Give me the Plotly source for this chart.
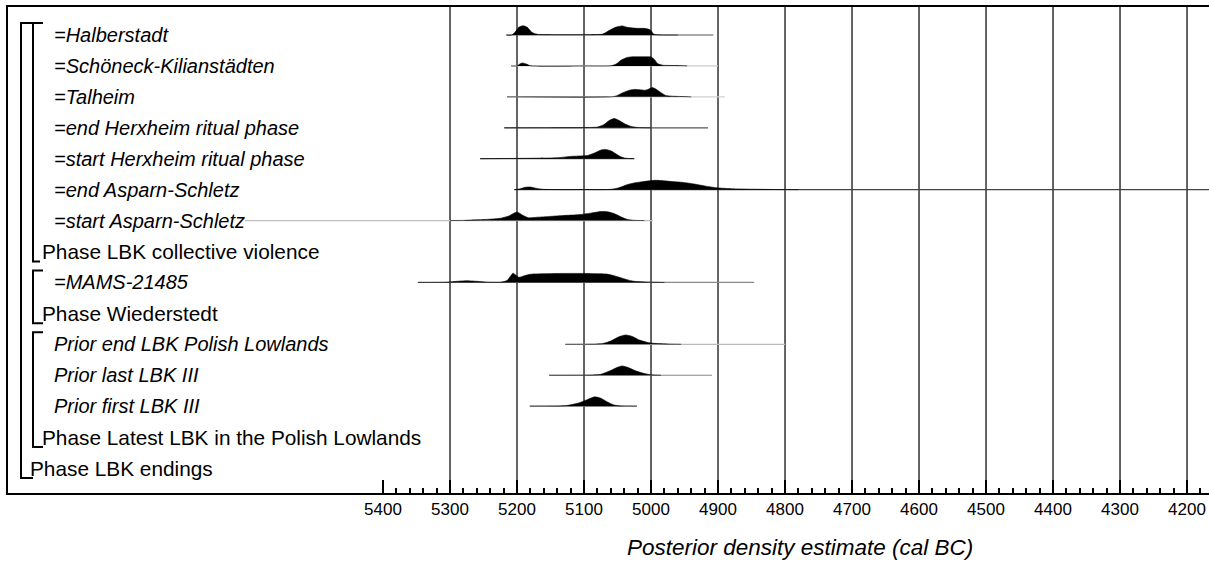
import plotly.graph_objects as go

# ---------------- data ----------------
ROW_LABELS = [
    "=Halberstadt", "=Schöneck-Kilianstädten", "=Talheim",
    "=end Herxheim ritual phase", "=start Herxheim ritual phase",
    "=end Asparn-Schletz", "=start Asparn-Schletz",
    "Phase LBK collective violence", "=MAMS-21485", "Phase Wiederstedt",
    "Prior end LBK Polish Lowlands", "Prior last LBK III", "Prior first LBK III",
    "Phase Latest LBK in the Polish Lowlands", "Phase LBK endings",
]
ROW_ITALIC = [True, True, True, True, True, True, True, False, True, False,
              True, True, True, False, False]
ROW_INDENT_PX = [52, 52, 52, 52, 52, 52, 52, 40, 52, 40, 52, 52, 52, 40, 28]

TICK_YEARS = [5400, 5300, 5200, 5100, 5000, 4900, 4800, 4700, 4600, 4500, 4400, 4300, 4200]
TICK_LABELS = ["5400", "5300", "5200", "5100", "5000", "4900", "4800", "4700",
               "4600", "4500", "4400", "4300", "4200"]
GRID_YEARS = [5300, 5200, 5100, 5000, 4900, 4800, 4700, 4600, 4500, 4400, 4300, 4200]
MINOR_YEARS = [y for y in range(5380, 4160, -20) if y % 100 != 0]

# density curves: (years, relative density 0..1)
halb_x = [5216, 5208, 5203, 5197, 5191, 5185, 5178, 5170, 5150, 5120, 5090, 5072, 5062, 5052, 5043, 5035, 5022, 5008, 5001, 4996, 4990, 4960]
halb_h = [0, 0, 0.3, 0.85, 1.0, 0.85, 0.3, 0.08, 0.04, 0.03, 0.04, 0.1, 0.5, 0.85, 0.98, 0.82, 0.72, 0.7, 0.55, 0.1, 0.02, 0]
scho_x = [5209, 5200, 5196, 5192, 5186, 5180, 5100, 5060, 5052, 5045, 5036, 5030, 5010, 5000, 4995, 4990, 4983, 4970, 4955, 4946]
scho_h = [0, 0, 0.2, 0.32, 0.2, 0.02, 0, 0.02, 0.2, 0.6, 0.9, 0.97, 0.98, 0.96, 0.7, 0.25, 0.08, 0.05, 0.03, 0]
talh_x = [5215, 5060, 5052, 5042, 5032, 5024, 5015, 5008, 5003, 4998, 4993, 4985, 4978, 4965, 4950, 4940]
talh_h = [0, 0, 0.1, 0.45, 0.72, 0.8, 0.75, 0.72, 0.85, 1.0, 0.85, 0.45, 0.15, 0.06, 0.03, 0]
endh_x = [5219, 5150, 5100, 5080, 5070, 5062, 5055, 5048, 5040, 5030, 5020, 5000]
endh_h = [0, 0.01, 0.02, 0.08, 0.35, 0.8, 1.0, 0.8, 0.45, 0.15, 0.04, 0]
strh_x = [5255, 5220, 5180, 5140, 5120, 5105, 5095, 5085, 5074, 5068, 5060, 5052, 5045, 5038, 5025]
strh_h = [0, 0.02, 0.05, 0.1, 0.25, 0.3, 0.35, 0.6, 0.95, 1.0, 0.85, 0.5, 0.2, 0.05, 0]
enda_x = [5204, 5195, 5188, 5180, 5170, 5160, 5100, 5060, 5048, 5035, 5025, 5010, 4995, 4985, 4970, 4952, 4935, 4920, 4902, 4880, 4850, 4820, 4780]
enda_h = [0, 0.1, 0.25, 0.28, 0.12, 0.03, 0.01, 0.03, 0.2, 0.55, 0.72, 0.88, 1.0, 0.98, 0.88, 0.78, 0.6, 0.4, 0.2, 0.1, 0.05, 0.02, 0]
stra_x = [5300, 5280, 5262, 5240, 5225, 5212, 5203, 5199, 5192, 5183, 5170, 5150, 5130, 5110, 5090, 5075, 5065, 5055, 5045, 5035, 5025, 5010]
stra_h = [0, 0.02, 0.08, 0.15, 0.25, 0.5, 0.85, 0.9, 0.6, 0.3, 0.36, 0.45, 0.55, 0.62, 0.8, 0.97, 0.95, 0.75, 0.4, 0.12, 0.03, 0]
mams_x = [5348, 5305, 5290, 5275, 5260, 5245, 5225, 5215, 5209, 5206, 5202, 5197, 5190, 5180, 5160, 5130, 5100, 5080, 5066, 5055, 5045, 5036, 5025, 5010, 4995, 4980]
mams_h = [0, 0.02, 0.12, 0.18, 0.12, 0.03, 0.02, 0.2, 0.75, 1.0, 0.8, 0.55, 0.7, 0.88, 0.94, 0.97, 0.97, 0.94, 0.9, 0.72, 0.5, 0.3, 0.12, 0.06, 0.02, 0]
pend_x = [5128, 5085, 5072, 5060, 5048, 5038, 5028, 5017, 5005, 4995, 4975, 4955]
pend_h = [0, 0.02, 0.08, 0.35, 0.8, 1.0, 0.85, 0.45, 0.2, 0.1, 0.03, 0]
plst_x = [5152, 5090, 5075, 5062, 5050, 5043, 5035, 5022, 5010, 5000, 4985]
plst_h = [0, 0.02, 0.1, 0.45, 0.85, 1.0, 0.85, 0.45, 0.18, 0.05, 0]
pfst_x = [5181, 5140, 5125, 5110, 5095, 5084, 5075, 5065, 5055, 5045, 5021]
pfst_h = [0, 0.02, 0.08, 0.3, 0.7, 1.0, 0.85, 0.45, 0.12, 0.03, 0]

# row index, years, heights, baseline start, baseline end, baseline colour
CURVES = [
    (0, halb_x, halb_h, 5216, 4907, "#555555"),
    (1, scho_x, scho_h, 5209, 4900, "#cccccc"),
    (2, talh_x, talh_h, 5215, 4890, "#d0d0d0"),
    (3, endh_x, endh_h, 5219, 4915, "#555555"),
    (4, strh_x, strh_h, 5255, 5025, "#555555"),
    (5, enda_x, enda_h, 5204, 4160, "#444444"),
    (6, stra_x, stra_h, 5606, 4997, "#c0c0c0"),
    (8, mams_x, mams_h, 5348, 4846, "#888888"),
    (10, pend_x, pend_h, 5128, 4800, "#bbbbbb"),
    (11, plst_x, plst_h, 5152, 4909, "#888888"),
    (12, pfst_x, pfst_h, 5181, 5021, "#999999"),
]

# brackets: (x px, first row, last row, top tick end px, bottom tick end px)
BRACKETS = [
    (21, 0, 14, 43, 33),
    (33, 0, 7, 43, 40),
    (33, 8, 9, 43, 43),
    (33, 10, 13, 43, 43),
]

# ---------------- geometry ----------------
W, H = 1209, 561
ML, MR, MT, MB = 8, 0, 7, 68
PW = W - ML - MR
ROW_PX = 30.93
Y_TOP = -(35 - 7) / ROW_PX
Y_BOT = (493 - 35) / ROW_PX
X_RANGE = [5959.7, 4167.2]
DENS_SCALE = 9.3 / ROW_PX
FONT = "Liberation Sans, Arial, Helvetica, sans-serif"


def px2paper(px):
    return (px - ML) / PW


fig = go.Figure()

for row, xs, hs, b0, b1, col in CURVES:
    fig.add_trace(go.Scatter(x=[b0, b1], y=[row, row], mode="lines",
                             line=dict(color=col, width=1.2), hoverinfo="skip",
                             showlegend=False))
    fig.add_trace(go.Scatter(x=xs, y=[row - DENS_SCALE * h for h in hs],
                             mode="lines", fill="toself", fillcolor="black",
                             line=dict(color="black", width=0.6, shape="spline", smoothing=0.6),
                             hoverinfo="skip", showlegend=False))

shapes = []
for gx in GRID_YEARS:
    shapes.append(dict(type="line", xref="x", yref="paper", x0=gx, x1=gx, y0=0, y1=1,
                       line=dict(color="#222222", width=1.4), layer="below"))

for bx, r0, r1, t_end, b_end in BRACKETS:
    top = r0 - 12 / ROW_PX
    bot = r1 + 10 / ROW_PX
    path = (f"M {px2paper(t_end)} {top} L {px2paper(bx)} {top} "
            f"L {px2paper(bx)} {bot} L {px2paper(b_end)} {bot}")
    shapes.append(dict(type="path", xref="paper", yref="y", path=path,
                       line=dict(color="black", width=2)))

annotations = []
for i, (lab, it, ind) in enumerate(zip(ROW_LABELS, ROW_ITALIC, ROW_INDENT_PX)):
    annotations.append(dict(x=px2paper(ind), y=i, xref="paper", yref="y", text=lab,
                            showarrow=False, xanchor="left", yanchor="middle",
                            font=dict(family=FONT, size=20 if it else 20.8, color="black",
                                      style="italic" if it else "normal")))

annotations.append(dict(x=px2paper(800), y=-(547 - 493) / (493 - 7), xref="paper", yref="paper",
                        text="Posterior density estimate (cal BC)", showarrow=False,
                        xanchor="center", yanchor="middle",
                        font=dict(family=FONT, size=22.5, color="black", style="italic")))

fig.update_layout(
    width=W, height=H,
    margin=dict(l=ML, r=MR, t=MT, b=MB),
    paper_bgcolor="white", plot_bgcolor="white",
    shapes=shapes, annotations=annotations,
    showlegend=False,
    xaxis=dict(range=X_RANGE, tickmode="array", tickvals=TICK_YEARS, ticktext=TICK_LABELS,
               ticks="inside", ticklen=13, tickwidth=2, tickcolor="black",
               showgrid=False, zeroline=False,
               showline=True, linecolor="black", linewidth=2, mirror=True,
               tickfont=dict(family=FONT, size=17, color="black"),
               minor=dict(tickmode="array", tickvals=MINOR_YEARS, ticks="inside",
                          ticklen=5, tickwidth=1.5, tickcolor="black", showgrid=False)),
    yaxis=dict(range=[Y_BOT, Y_TOP], showticklabels=False, ticks="", showgrid=False,
               zeroline=False, showline=True, linecolor="black", linewidth=2, mirror=False),
)

fig.write_html("out.html", config={"displayModeBar": False},
               post_script="document.body.style.margin='0';document.body.style.overflow='hidden';")
